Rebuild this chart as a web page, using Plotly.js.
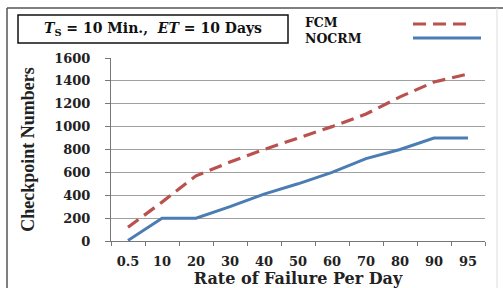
<!DOCTYPE html>
<html>
<head>
<meta charset="utf-8">
<script src="https://cdn.plot.ly/plotly-3.0.1.min.js"></script>
<style>html,body{margin:0;padding:0;background:#fff;}#chart{width:503px;height:288px;}</style>
</head>
<body>
<div id="chart"></div>
<script>
const categories = ["0.5", "10", "20", "30", "40", "50", "60", "70", "80", "90", "95"];
const fcmValues = [120, 340, 570, 690, 800, 900, 1000, 1110, 1260, 1390, 1460];
const nocrmValues = [5, 200, 200, 300, 410, 500, 600, 720, 800, 900, 900];
const seriesNames = ["FCM", "NOCRM"];
const yTicks = [0, 200, 400, 600, 800, 1000, 1200, 1400, 1600];

const serif = "DejaVu Serif, Liberation Serif, serif";
const fcmColor = "#b9524f";
const nocrmColor = "#4b7db3";

const traces = [
  {x: categories, y: fcmValues, name: seriesNames[0], type: "scatter", mode: "lines",
   line: {color: fcmColor, width: 3.2, dash: "13px,7px"}, showlegend: false},
  {x: categories, y: nocrmValues, name: seriesNames[1], type: "scatter", mode: "lines",
   line: {color: nocrmColor, width: 3}, showlegend: false}
];

const W = 374, H = 183, L = 111, B = 241;
const px = v => (v - L) / W;
const py = v => (B - v) / H;

const layout = {
  width: 503, height: 288,
  margin: {l: 111, r: 18, t: 58, b: 47},
  paper_bgcolor: "#fff", plot_bgcolor: "#fff",
  showlegend: false,
  xaxis: {
    type: "category", range: [-0.5, 10.5],
    tickson: "boundaries", ticks: "outside", ticklen: 4, tickcolor: "#777",
    showline: true, linecolor: "#777", linewidth: 1, showgrid: false, zeroline: false,
    ticklabelstandoff: 8,
    tickfont: {family: serif, size: 13, color: "#222", weight: "bold"},
    title: {text: "Rate of Failure Per Day", standoff: 3,
            font: {family: serif, size: 16, color: "#222", weight: "bold"}},
    fixedrange: true
  },
  yaxis: {
    range: [0, 1600], tickvals: yTicks, ticks: "outside", ticklen: 5, tickcolor: "#777",
    showline: true, linecolor: "#777", linewidth: 1,
    showgrid: true, gridcolor: "#a0a0a0", gridwidth: 1, zeroline: false,
    ticklabelstandoff: 12,
    tickfont: {family: serif, size: 13, color: "#222", weight: "bold"},
    title: {text: "Checkpoint Numbers", standoff: 14,
            font: {family: "Liberation Serif, serif", size: 18, color: "#222", weight: "bold"}},
    fixedrange: true
  },
  shapes: [
    {type: "line", xref: "paper", yref: "paper", x0: px(7), x1: px(7), y0: py(300), y1: py(8),
     line: {color: "#555", width: 1.5}},
    {type: "line", xref: "paper", yref: "paper", x0: px(7), x1: px(503), y0: py(8), y1: py(8),
     line: {color: "#555", width: 1.5}},
    {type: "line", xref: "paper", yref: "paper", x0: px(497), x1: px(497), y0: py(300), y1: py(8),
     line: {color: "#ddd", width: 1}},
    {type: "rect", xref: "paper", yref: "paper", x0: px(18), x1: px(288), y0: py(43), y1: py(15),
     line: {color: "#111", width: 1.5}},
    {type: "line", xref: "paper", yref: "paper", x0: px(413), x1: px(473), y0: py(24), y1: py(24),
     line: {color: fcmColor, width: 3.2, dash: "13px,7px"}},
    {type: "line", xref: "paper", yref: "paper", x0: px(413), x1: px(481), y0: py(38), y1: py(38),
     line: {color: nocrmColor, width: 3}}
  ],
  annotations: [
    {xref: "paper", yref: "paper", x: px(153), y: py(29), xanchor: "center", yanchor: "middle",
     showarrow: false,
     text: "<i>T</i><sub>S</sub> = 10 Min.,  <i>ET</i> = 10 Days",
     font: {family: serif, size: 14, color: "#111", weight: "bold"}},
    {xref: "paper", yref: "paper", x: px(304), y: py(30), xanchor: "left", yanchor: "middle",
     showarrow: false, align: "left", borderpad: 0,
     text: seriesNames[0] + "<br>" + seriesNames[1],
     font: {family: serif, size: 12.5, color: "#111", weight: "bold"}}
  ]
};

Plotly.newPlot("chart", traces, layout, {displayModeBar: false, staticPlot: true});
</script>
</body>
</html>
